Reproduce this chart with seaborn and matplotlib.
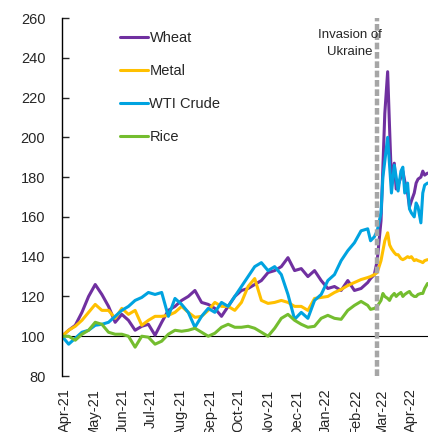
import matplotlib
matplotlib.use("Agg")
import matplotlib.pyplot as plt
import matplotlib.dates as mdates
import pandas as pd
import seaborn as sns

# weekly points up to mid-Feb 2022, then denser points around the invasion
weekly_dates = pd.date_range("2021-03-29", "2022-02-14", freq="7D")
late_dates = pd.to_datetime([
    "2022-02-17", "2022-02-21", "2022-02-24", "2022-02-28", "2022-03-02",
    "2022-03-04", "2022-03-07", "2022-03-09", "2022-03-11", "2022-03-14",
    "2022-03-16", "2022-03-18", "2022-03-21", "2022-03-23", "2022-03-25",
    "2022-03-28", "2022-03-30", "2022-04-01", "2022-04-04", "2022-04-06",
    "2022-04-08", "2022-04-11", "2022-04-13", "2022-04-15", "2022-04-18",
])
dates = weekly_dates.append(late_dates)

wheat = [100, 103, 105.5, 112, 120, 126, 121, 115, 107, 111,
         108, 103, 105, 106, 100.5, 107, 113, 115, 118, 120,
         123, 117, 116, 114, 110, 115, 120, 123, 124, 126,
         128, 132, 133, 135, 139.5, 133, 134, 130, 133, 128,
         124, 125, 123, 128, 123, 124, 127,
         129, 131, 138, 158, 185, 212, 233, 205, 178, 187,
         174, 176, 180, 183, 178, 172, 165, 168, 172, 177,
         179, 180, 183, 181, 182]
metal = [100, 103, 105, 108, 112, 116, 113, 113, 109, 114,
         111, 113, 105.5, 108, 110, 110, 110.5, 112, 115, 112,
         109.5, 110, 113, 117, 115, 115, 113, 117, 125, 129,
         118, 116.5, 117, 118, 117, 115, 115, 113, 119, 119.5,
         120, 122, 123.5, 125.5, 127, 128.5, 129.5,
         130, 131, 132, 138, 143, 148, 152, 146, 144, 142,
         141, 141, 139, 138.5, 139, 140, 139.5, 140, 138, 138.5,
         138, 137.5, 137, 138, 138.5]
crude = [100, 96, 99, 102, 103, 105.5, 106, 107, 110, 113,
         115, 118, 119.5, 122, 121, 122, 110, 119, 116, 112,
         104.5, 110, 114, 112, 117, 115, 120, 125, 130, 135,
         137, 133, 135, 131, 121, 108.5, 112, 109, 118, 121,
         128, 131, 138, 143, 147, 153, 154,
         148, 150, 153, 162, 180, 188, 200, 186, 172, 186,
         180, 173, 183, 185, 172, 177, 164, 162, 160, 167,
         165, 157, 172, 176, 177]
rice = [100, 100, 98, 101, 103, 107, 106, 102, 101, 101,
        100, 94.5, 100, 99.5, 96, 97.5, 101, 103, 102.5, 103,
        104, 102, 100, 101.5, 104.5, 106, 104.5, 104.5, 105, 104,
        102, 100, 104, 109, 111, 108, 106, 104.5, 105, 109,
        110.5, 109, 108.5, 113, 115.5, 117.5, 115.5,
        113.5, 114, 115, 118, 121.5, 120, 119, 118, 120, 121.5,
        120, 121, 122, 120, 121, 122, 122.5, 121, 120, 120,
        121, 121.5, 121.5, 124, 126.5]

series_names = ["Wheat", "Metal", "WTI Crude", "Rice"]
series_colors = ["#7030A0", "#FFC000", "#00A3E0", "#74BD2F"]

df = pd.DataFrame({"date": dates, "Wheat": wheat, "Metal": metal,
                   "WTI Crude": crude, "Rice": rice})
df = df.melt(id_vars="date", var_name="series", value_name="level")

sns.set_style("white")
plt.rcParams["font.family"] = ["Liberation Sans", "DejaVu Sans"]
text_color = "#262626"

fig = plt.figure(figsize=(4.28, 4.32), dpi=100)
ax = fig.add_axes([62 / 428, 1 - 376 / 432, 1 - 62 / 428, (376 - 18) / 432])

sns.lineplot(data=df, x="date", y="level", hue="series", hue_order=series_names,
             palette=dict(zip(series_names, series_colors)), linewidth=2.2, ax=ax)

ax.axhline(100, color="black", lw=0.8, zorder=1)
ax.axvline(pd.Timestamp("2022-02-24"), color="#A6A6A6", lw=3.2,
           ls=(0, (1.5, 0.6)), zorder=5)
ax.text(pd.Timestamp("2022-01-26"), 247, "Invasion of\nUkraine", ha="center",
        va="center", fontsize=9.5, color=text_color, linespacing=1.55, zorder=6)

ax.set_ylim(80, 260)
ax.set_yticks(range(80, 261, 20))
ax.set_xlim(pd.Timestamp("2021-03-29"), pd.Timestamp("2022-04-18 12:00"))
ax.xaxis.set_major_locator(mdates.MonthLocator())
ax.xaxis.set_major_formatter(mdates.DateFormatter("%b-%y"))
ax.set_xlabel("")
ax.set_ylabel("")

for side in ["top", "right", "bottom"]:
    ax.spines[side].set_visible(False)
ax.spines["left"].set_color("black")
ax.spines["left"].set_linewidth(1)

ax.tick_params(axis="y", direction="in", length=5, width=1, pad=12,
               labelsize=10.5, labelcolor=text_color, left=True)
ax.tick_params(axis="x", length=0, pad=9, labelsize=10.5, labelcolor=text_color)
plt.setp(ax.get_xticklabels(), rotation=90, ha="center", va="top")

handles, labels = ax.get_legend_handles_labels()
ax.legend(handles, labels, loc="upper left", bbox_to_anchor=(113 / 428, 1 - 24 / 432),
          bbox_transform=fig.transFigure, frameon=False, handlelength=1.9,
          handletextpad=0.1, labelspacing=1.3, borderpad=0, fontsize=10.5)

fig.savefig("out.png", dpi=100)
